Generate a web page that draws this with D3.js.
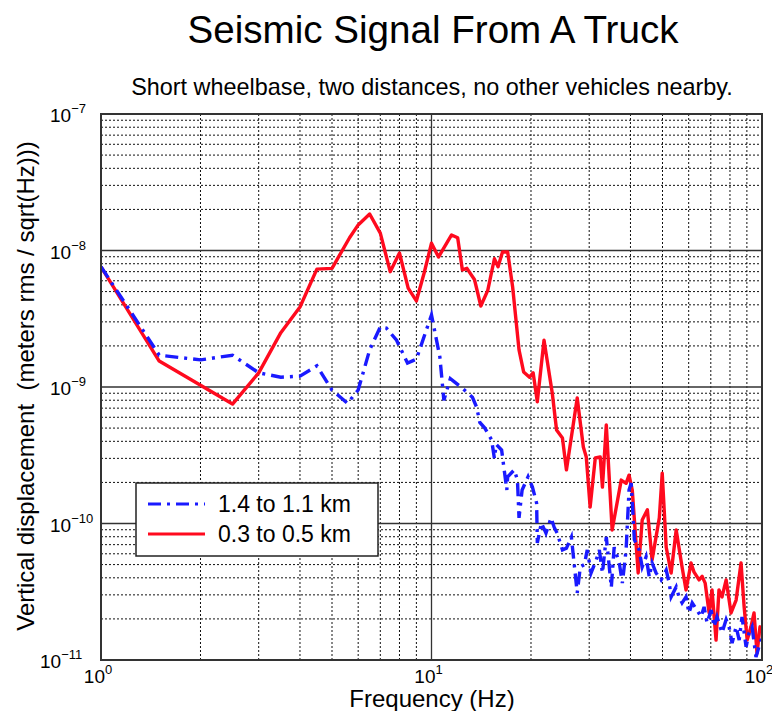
<!DOCTYPE html>
<html>
<head>
<meta charset="utf-8">
<script src="https://cdnjs.cloudflare.com/ajax/libs/d3/7.8.5/d3.min.js"></script>
<style>
  body { margin: 0; background: #fff; }
  svg text { font-family: "Liberation Sans", Arial, Helvetica, sans-serif; fill: #000; }
</style>
</head>
<body>
<svg width="772" height="711"></svg>
<script>
// **** chart data ****
var farFreq = [1, 1.34, 1.5, 2, 2.5, 3, 3.5, 4, 4.5, 5, 5.57, 6, 6.5, 7, 7.3, 7.84, 8.46, 9, 10, 10.6, 10.9, 11.4,
    12.4, 13.3, 13.7, 14, 14.5, 15.2, 15.5, 15.7, 16.3, 16.9, 17, 17.8, 18.2, 18.4, 18.8, 19.6, 20.2, 20.8, 20.9,
    21.5, 22.2, 23, 23.5, 24, 24.9, 25.6, 26.5, 27, 27.6, 28.2, 29, 29.6, 30.4, 31.5, 32.2, 32.9, 33.8, 35, 35.7,
    37, 37.8, 38.8, 39.6, 40.2, 41.1, 42.5, 43.4, 44.6, 45.6, 46.5, 47.8, 49.5, 51.3, 52.4, 53.1, 55, 56.1, 57.3,
    58.9, 60.1, 61.5, 63.6, 65.4, 66.8, 68.2, 70.2, 71.6, 73.1, 75.7, 77.9, 79.5, 81.2, 83.5, 85.3, 87, 89.5,
    91.4, 93.3, 95.9, 97.9, 100];
var farDisp = [7.6e-9, 2.6e-9, 1.71e-9, 1.58e-9, 1.71e-9, 1.27e-9, 1.18e-9, 1.2e-9, 1.43e-9, 9.5e-10, 7.6e-10,
    9.5e-10, 1.87e-9, 2.75e-9, 2.7e-9, 2.2e-9, 1.5e-9, 1.6e-9, 3.37e-9, 1.66e-9, 8.0e-10, 1.15e-9,
    9.8e-10, 8.4e-10, 7.1e-10, 5.5e-10, 5.0e-10, 4.1e-10, 3.0e-10, 3.8e-10, 3.45e-10, 1.76e-10, 2.2e-10, 2.47e-10,
    2.08e-10, 1.1e-10, 1.76e-10, 2.2e-10, 1.85e-10, 1.41e-10, 7.2e-11,
    1.01e-10, 8.5e-11, 1.1e-10, 9.4e-11, 8.5e-11, 6.4e-11, 6.6e-11, 7.96e-11, 5.14e-11, 3.1e-11, 4.8e-11, 5.0e-11,
    6.4e-11, 4.34e-11, 5.4e-11, 6.4e-11, 4.34e-11, 7.96e-11, 3.4e-11, 6.7e-11,
    5.14e-11, 3.66e-11, 6.4e-11, 1.76e-10, 1.98e-10, 7.6e-11, 6.4e-11, 4.8e-11, 5.7e-11, 4.06e-11, 5.14e-11,
    4.34e-11, 3.86e-11, 4.56e-11, 3.66e-11, 2.9e-11, 3.43e-11, 2.9e-11, 2.62e-11,
    2.9e-11, 2.21e-11, 2.62e-11, 2.32e-11, 2.07e-11, 2.45e-11, 1.87e-11, 2.32e-11, 1.75e-11, 2.07e-11, 1.58e-11,
    1.98e-11, 1.75e-11, 1.33e-11, 1.75e-11, 1.4e-11, 2.07e-11, 1.25e-11,
    1.58e-11, 1.75e-11, 1.05e-11, 1.25e-11, 1.47e-11];

var nearFreq = [1, 1.5, 2.5, 3, 3.5, 4, 4.5, 5, 5.65, 6, 6.5, 7, 7.5, 8, 8.5, 9, 9.5, 10, 10.5, 11.5, 12, 12.4,
    12.8, 13.5, 14.1, 14.8, 15.5, 15.9, 16.4, 17, 17.6, 18.4, 19, 19.8, 20.3, 20.9, 21.9, 23.2, 23.9, 24.9, 25.6,
    27.6, 28.8, 29.4, 30.2, 31.3, 32.4, 32.9, 33.8, 35.2, 37.5, 38.8, 39.6, 40.5, 42.2, 43.4, 45, 46.5, 48.9,
    49.9, 51.3, 53.1, 55, 57.3, 58.9, 61, 62.3, 64.5, 65.9, 67.3, 69.2, 70.6, 72.6, 74.1, 75.7, 77.9, 80.6,
    83.5, 86.4, 88.3, 90.2, 92.6, 94.6, 96.6, 98.6, 100];
var nearDisp = [7.6e-9, 1.55e-9, 7.5e-10, 1.27e-9, 2.5e-9, 3.86e-9, 7.3e-9, 7.4e-9, 1.24e-8, 1.54e-8, 1.85e-8,
    1.34e-8, 7.0e-9, 9.6e-9, 5.3e-9, 4.27e-9, 6.84e-9, 1.13e-8, 8.96e-9, 1.3e-8, 1.24e-8, 7.2e-9,
    7.4e-9, 6.1e-9, 3.92e-9, 5.1e-9, 8.7e-9, 7.6e-9, 9.75e-9, 9.75e-9, 5.4e-9, 1.87e-9, 1.29e-9, 1.18e-9, 1.27e-9,
    7.8e-10, 2.2e-9, 9.0e-10, 4.84e-10, 4.23e-10, 2.47e-10,
    8.3e-10, 3.63e-10, 3.07e-10, 1.32e-10, 3.02e-10, 3.07e-10, 1.85e-10, 5.27e-10, 8.96e-11, 2.08e-10, 1.97e-10,
    2.26e-10, 1.76e-10, 4.34e-11, 1.06e-10, 1.26e-10, 5.4e-11, 1.1e-10,
    2.34e-10, 6.7e-11, 4.34e-11, 8.96e-11, 4.8e-11, 3.26e-11, 5.14e-11, 4.4e-11, 3.86e-11, 4.1e-11, 3.66e-11,
    2.21e-11, 3.26e-11, 1.4e-11, 3.26e-11, 2.9e-11, 3.86e-11, 2.21e-11,
    2.75e-11, 5.14e-11, 2.45e-11, 1.4e-11, 1.75e-11, 2.21e-11, 1.12e-11, 1.75e-11, 1.58e-11];

var seriesNames = ['1.4 to 1.1 km', '0.3 to 0.5 km'];
var xDecades = [0, 1, 2];
var yDecades = [-11, -10, -9, -8, -7];

// **** scales, grid and axes ****
var plotL = 101, plotR = 762, plotT = 114, plotB = 660;

var freqScale = d3.scaleLog().domain([1, 100]).range([plotL, plotR]);
var dispScale = d3.scaleLog().domain([1e-11, 1e-7]).range([plotB, plotT]);

var svg = d3.select('svg');

svg.append('defs').append('clipPath').attr('id', 'plotclip')
    .append('rect')
    .attr('x', plotL).attr('y', plotT)
    .attr('width', plotR - plotL).attr('height', plotB - plotT);

var grid = svg.append('g').attr('class', 'grid');

function isDecade(d) {
    var l = Math.log10(d);
    return Math.abs(l - Math.round(l)) < 1e-6;
}

// minor grid (dotted)
grid.selectAll('.vminor')
    .data(freqScale.ticks().filter(function(d){ return !isDecade(d); }))
    .enter().append('line')
    .attr('x1', function(d){ return freqScale(d); })
    .attr('x2', function(d){ return freqScale(d); })
    .attr('y1', plotT).attr('y2', plotB)
    .style('stroke', '#111').style('stroke-width', 1).style('stroke-dasharray', '2,2');

grid.selectAll('.hminor')
    .data(dispScale.ticks().filter(function(d){ return !isDecade(d); }))
    .enter().append('line')
    .attr('y1', function(d){ return dispScale(d); })
    .attr('y2', function(d){ return dispScale(d); })
    .attr('x1', plotL).attr('x2', plotR)
    .style('stroke', '#111').style('stroke-width', 1).style('stroke-dasharray', '2,2');

// major grid (solid)
grid.selectAll('.vmajor')
    .data(xDecades)
    .enter().append('line')
    .attr('x1', function(d){ return freqScale(Math.pow(10, d)); })
    .attr('x2', function(d){ return freqScale(Math.pow(10, d)); })
    .attr('y1', plotT).attr('y2', plotB)
    .style('stroke', '#333').style('stroke-width', 1.3);

grid.selectAll('.hmajor')
    .data(yDecades)
    .enter().append('line')
    .attr('y1', function(d){ return dispScale(Math.pow(10, d)); })
    .attr('y2', function(d){ return dispScale(Math.pow(10, d)); })
    .attr('x1', plotL).attr('x2', plotR)
    .style('stroke', '#333').style('stroke-width', 1.3);

// tick labels 10^n
var xlab = svg.selectAll('.xtick')
    .data(xDecades)
    .enter().append('text')
    .attr('class', 'xtick')
    .attr('x', function(d){ return freqScale(Math.pow(10, d)) - 3; })
    .attr('y', 683)
    .attr('text-anchor', 'middle')
    .style('font-size', '19px');
xlab.append('tspan').text('10');
xlab.append('tspan').attr('dy', -9).style('font-size', '13px')
    .text(function(d){ return d; });

var ylab = svg.selectAll('.ytick')
    .data(yDecades)
    .enter().append('text')
    .attr('class', 'ytick')
    .attr('x', function(d){ return d === -11 ? 40 : 50; })
    .attr('y', function(d){ return dispScale(Math.pow(10, d)) + 8; })
    .style('font-size', '19px');
ylab.append('tspan').text('10');
ylab.append('tspan').attr('dy', -9).style('font-size', '13px')
    .text(function(d){ return '\u2212' + (-d); });

// **** the two series ****
var line = d3.line()
    .x(function(d){ return freqScale(d[0]); })
    .y(function(d){ return dispScale(d[1]); });

var plot = svg.append('g').attr('clip-path', 'url(#plotclip)');

plot.append('path')
    .datum(d3.zip(nearFreq, nearDisp))
    .attr('d', line)
    .style('fill', 'none').style('stroke', '#ff0a1e').style('stroke-width', 3.4)
    .style('stroke-linejoin', 'round');

plot.append('path')
    .datum(d3.zip(farFreq, farDisp))
    .attr('d', line)
    .style('fill', 'none').style('stroke', '#1a1aff').style('stroke-width', 3.4)
    .style('stroke-dasharray', '13,6,3,6');

// frame
svg.append('rect')
    .attr('x', plotL).attr('y', plotT)
    .attr('width', plotR - plotL).attr('height', plotB - plotT)
    .style('fill', 'none').style('stroke', '#333').style('stroke-width', 2);

// **** legend ****
var legend = svg.append('g').attr('class', 'legend');
legend.append('rect')
    .attr('x', 136).attr('y', 483).attr('width', 242).attr('height', 73)
    .style('fill', '#fff').style('stroke', '#222').style('stroke-width', 1.5);

var legendStyles = [
    { color: '#1a1aff', dash: '13,6,3,6' },
    { color: '#ff0a1e', dash: null }
];
var items = legend.selectAll('.item')
    .data(seriesNames)
    .enter().append('g')
    .attr('class', 'item')
    .attr('transform', function(d, i){ return 'translate(0,' + (504 + i * 30) + ')'; });
items.append('line')
    .attr('x1', 148).attr('x2', 205).attr('y1', 0).attr('y2', 0)
    .style('stroke', function(d, i){ return legendStyles[i].color; })
    .style('stroke-width', 3)
    .style('stroke-dasharray', function(d, i){ return legendStyles[i].dash; });
items.append('text')
    .attr('x', 218).attr('y', 8)
    .style('font-size', '23px')
    .text(function(d){ return d; });

// **** titles ****
svg.append('text')
    .attr('x', 433).attr('y', 43)
    .attr('text-anchor', 'middle')
    .style('font-size', '38.6px')
    .text('Seismic Signal From A Truck');

svg.append('text')
    .attr('x', 432).attr('y', 95)
    .attr('text-anchor', 'middle')
    .style('font-size', '23.4px')
    .text('Short wheelbase, two distances, no other vehicles nearby.');

svg.append('text')
    .attr('x', 432).attr('y', 707)
    .attr('text-anchor', 'middle')
    .style('font-size', '24px')
    .text('Frequency (Hz)');

svg.append('text')
    .attr('transform', 'translate(34,386) rotate(-90)')
    .attr('text-anchor', 'middle')
    .style('font-size', '24px')
    .style('white-space', 'pre')
    .text('Vertical displacement  (meters rms / sqrt(Hz)))');
</script>
</body>
</html>
